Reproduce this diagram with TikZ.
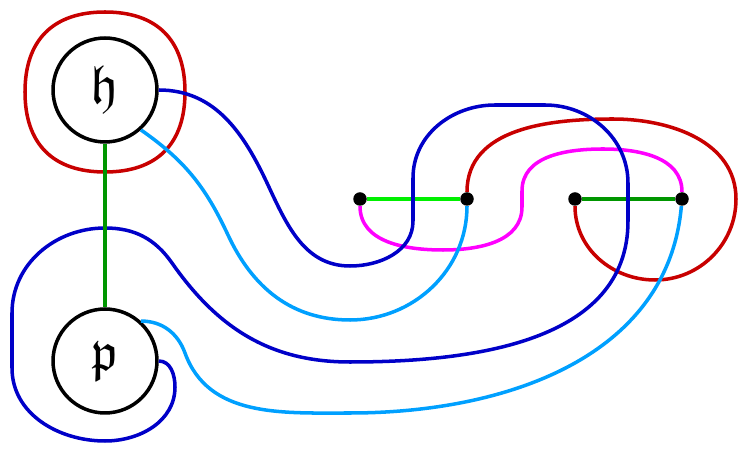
\documentclass[tikz,border=0pt]{standalone}
\usepackage{amssymb}
\usepackage{graphicx}
\usetikzlibrary{positioning}

\definecolor{deepblue}{RGB}{0,0,200}
\definecolor{skyblue}{RGB}{0,160,255}
\definecolor{loopred}{RGB}{200,0,0}
\definecolor{pinkline}{RGB}{255,0,255}
\definecolor{darkgreen}{RGB}{0,150,0}
\definecolor{lightgreen}{RGB}{0,240,0}

\begin{document}
\begin{tikzpicture}[
    x=0.02cm, y=0.02cm,
    vertex/.style={circle, draw=black, line width=2pt, minimum size=2.08cm, inner sep=0pt, font=\Huge},
    dot/.style={circle, fill=black, minimum size=0.27cm, inner sep=0pt},
    strand/.style={line width=2pt},
    bluestrand/.style={strand, draw=deepblue},
    skystrand/.style={strand, draw=skyblue},
    redstrand/.style={strand, draw=loopred},
    pinkstrand/.style={strand, draw=pinkline}
]
\useasboundingbox (0,0) rectangle (748,453);

% Big vertices
\node[vertex] (h) at (105,363) {\scalebox{1.25}{$\mathfrak{h}$}};
\node[vertex] (p) at (105,92) {\scalebox{1.25}{$\mathfrak{p}$}};

% Small vertices
\node[dot] (d1) at (360,254) {};
\node[dot] (d2) at (467,254) {};
\node[dot] (d3) at (575,254) {};
\node[dot] (d4) at (682,254) {};

% Short green edges
\draw[strand, lightgreen] (d1) -- (d2);
\draw[strand, darkgreen] (d3) -- (d4);

% Red loop around h
\draw[redstrand] (185,361) .. controls (185,413) and (157,441) .. (105,441)
    .. controls (53,441) and (25,413) .. (25,361)
    .. controls (25,309) and (53,281) .. (105,281)
    .. controls (157,281) and (185,309) .. cycle;

% Red strand on the right
\draw[redstrand] (d2) to[out=90,in=180] (613,334) to[out=0,in=90] (736,254)
    to[out=-90,in=0] (655,173) to[out=180,in=-90] (d3);

% Magenta strand
\draw[pinkstrand] (d1) to[out=-90,in=180] (443,203) to[out=0,in=-90] (522,246)
    -- (522,262) to[out=90,in=180] (603,304) to[out=0,in=90] (d4);

% Light blue strands
\draw[skystrand] (h.-48) to[out=-35,in=115] (228,218) to[out=-65,in=180] (350,133)
    to[out=0,in=-90] (d2);
\draw[skystrand] (p.48) to[out=0,in=110] (185,100) to[out=-70,in=180] (350,40)
    to[out=0,in=-95] (d4);

% Dark blue strand
\draw[bluestrand] (h.east) to[out=0,in=115] (268,268) to[out=-65,in=180] (350,187)
    to[out=0,in=-90] (413,232) -- (413,275) to[out=90,in=180] (495,348) -- (545,348)
    to[out=0,in=90] (628,270) -- (628,232) to[out=-90,in=0] (350,91)
    to[out=180,in=-55] (172,190) to[out=125,in=0] (105,225)
    to[out=180,in=90] (12,140) -- (12,85) to[out=-90,in=180] (105,12)
    to[out=0,in=-90] (175,66) to[out=90,in=0] (p.east);

% Edge between h and p
\draw[strand, darkgreen] (h) -- (p);

\end{tikzpicture}
\end{document}
